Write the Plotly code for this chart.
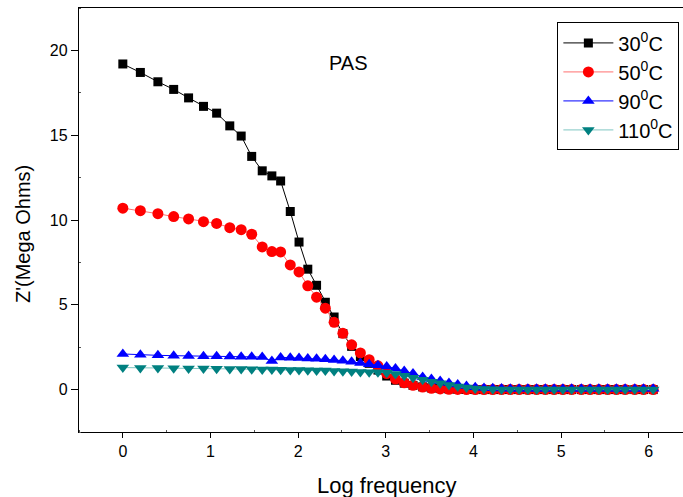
import plotly.graph_objects as go

log_freq = [0, 0.2, 0.4, 0.58, 0.75, 0.92, 1.07, 1.22, 1.35, 1.47, 1.59, 1.70, 1.80, 1.91,
            2.01, 2.11, 2.21, 2.31, 2.41, 2.51, 2.61, 2.71, 2.81, 2.91,
            3.01, 3.11, 3.21, 3.31, 3.42, 3.52, 3.62, 3.72, 3.82, 3.92,
            4.02, 4.12, 4.22, 4.32, 4.42, 4.52, 4.62, 4.72, 4.82, 4.92,
            5.02, 5.12, 5.23, 5.33, 5.43, 5.53, 5.63, 5.73, 5.84, 5.94, 6.05]

z_30 = [19.2, 18.7, 18.15, 17.7, 17.2, 16.7, 16.3, 15.55, 14.95, 13.75, 12.9, 12.6, 12.3, 10.5,
        8.7, 7.1, 6.15, 5.15, 4.28, 3.3, 2.55, 1.95, 1.55, 1.15,
        0.8, 0.55, 0.38, 0.25, 0.16, 0.1, 0.06, 0.04, 0.02, 0.01,
        0.0, 0.0, 0.0, 0.0, 0.0, 0.0, 0.0, 0.0, 0.0, 0.0,
        0.0, 0.0, 0.0, 0.0, 0.0, 0.0, 0.0, 0.0, 0.0, 0.0, 0.0]

z_50 = [10.7, 10.55, 10.37, 10.2, 10.06, 9.9, 9.8, 9.55, 9.43, 9.16, 8.41, 8.14, 8.12, 7.35,
        6.94, 6.12, 5.45, 4.8, 3.97, 3.32, 2.64, 2.16, 1.76, 1.4,
        0.95, 0.62, 0.4, 0.25, 0.15, 0.08, 0.04, 0.02, 0.01, 0.0,
        0.0, 0.0, 0.0, 0.0, 0.0, 0.0, 0.0, 0.0, 0.0, 0.0,
        0.0, 0.0, 0.0, 0.0, 0.0, 0.0, 0.0, 0.0, 0.0, 0.0, 0.0]

z_90 = [2.1, 2.05, 2.02, 2.0, 1.98, 1.97, 1.96, 1.95, 1.94, 1.93, 1.92, 1.68, 1.9, 1.88,
        1.86, 1.84, 1.82, 1.79, 1.75, 1.7, 1.64, 1.57, 1.5, 1.44,
        1.36, 1.24, 1.1, 0.95, 0.75, 0.62, 0.5, 0.39, 0.3, 0.21,
        0.14, 0.1, 0.08, 0.06, 0.05, 0.05, 0.05, 0.05, 0.05, 0.05,
        0.05, 0.05, 0.05, 0.05, 0.05, 0.05, 0.05, 0.05, 0.05, 0.05, 0.05]

z_110 = [1.3, 1.28, 1.27, 1.26, 1.25, 1.24, 1.23, 1.22, 1.21, 1.2, 1.19, 1.18, 1.17, 1.16,
         1.15, 1.14, 1.13, 1.12, 1.1, 1.08, 1.06, 1.04, 1.02, 1.03,
         1.0, 0.92, 0.82, 0.7, 0.58, 0.47, 0.37, 0.27, 0.19, 0.12,
         0.07, 0.04, 0.02, 0.01, 0.0, 0.0, 0.0, 0.0, 0.0, 0.0,
         0.0, 0.0, 0.0, 0.0, 0.0, 0.0, 0.0, 0.0, 0.0, 0.0, 0.0]

series = [
    ("30<sup>0</sup>C", z_30, "#000000", "#000000", "square", 9),
    ("50<sup>0</sup>C", z_50, "#ff7070", "#ff0000", "circle", 11),
    ("90<sup>0</sup>C", z_90, "#0000ff", "#0000ff", "triangle-up", 11),
    ("110<sup>0</sup>C", z_110, "#7fc6c2", "#008080", "triangle-down", 11),
]

FONT = "Liberation Sans, Arial, sans-serif"

fig = go.Figure()
for name, ys, lc, mc, sym, sz in series:
    fig.add_trace(go.Scatter(
        x=log_freq, y=ys, name=name, mode="lines+markers",
        line=dict(color=lc, width=1),
        marker=dict(symbol=sym, size=sz, color=mc, line=dict(width=0)),
    ))

fig.update_layout(
    width=683, height=497,
    margin=dict(l=79, r=0, t=8, b=65),
    paper_bgcolor="white", plot_bgcolor="white",
    font=dict(family=FONT, color="black", size=16),
    showlegend=True,
    legend=dict(
        x=0.792, y=0.966, xanchor="left", yanchor="top",
        bordercolor="black", borderwidth=1, bgcolor="white",
        font=dict(family=FONT, size=20, color="black"),
        tracegroupgap=0, itemwidth=50,
    ),
    xaxis=dict(
        range=[-0.5, 6.39], tickmode="array", tickvals=[0, 1, 2, 3, 4, 5, 6],
        showgrid=False, zeroline=False, showline=True, linecolor="black", linewidth=1.3,
        mirror=True, ticks="outside", ticklen=5, tickwidth=1.3, tickcolor="black",
        tickfont=dict(family=FONT, size=16, color="black"),
        minor=dict(tickvals=[-0.5, 0.5, 1.5, 2.5, 3.5, 4.5, 5.5], ticks="inside", ticklen=2,
                   tickcolor="#555555", tickwidth=1),
    ),
    yaxis=dict(
        range=[-2.5, 22.5], tickmode="array", tickvals=[0, 5, 10, 15, 20],
        showgrid=False, zeroline=False, showline=True, linecolor="black", linewidth=1.3,
        mirror=False, ticks="outside", ticklen=7, tickwidth=1.3, tickcolor="black",
        tickfont=dict(family=FONT, size=16, color="black"),
        minor=dict(tickvals=[-2.5, 2.5, 7.5, 12.5, 17.5, 22.5], ticks="inside", ticklen=2,
                   tickcolor="#555555", tickwidth=1),
    ),
)

fig.add_annotation(text="PAS", xref="paper", yref="paper",
                   x=(348 - 79) / 604, y=(432 - 50) / 424, showarrow=False,
                   font=dict(family=FONT, size=20, color="black"))
fig.add_annotation(text="Log frequency", xref="paper", yref="paper",
                   x=(386 - 79) / 604, y=(432 - 485) / 424, showarrow=False,
                   yanchor="middle",
                   font=dict(family=FONT, size=22, color="black"))
fig.add_annotation(text="Z'(Mega Ohms)", xref="paper", yref="paper",
                   x=(23 - 79) / 604, y=(432 - 234) / 424, showarrow=False,
                   textangle=-90, xanchor="center", yanchor="middle",
                   font=dict(family=FONT, size=20, color="black"))

fig.write_html("out.html", config={"displayModeBar": False},
               post_script="document.body.style.margin='0';document.body.style.padding='0';")
